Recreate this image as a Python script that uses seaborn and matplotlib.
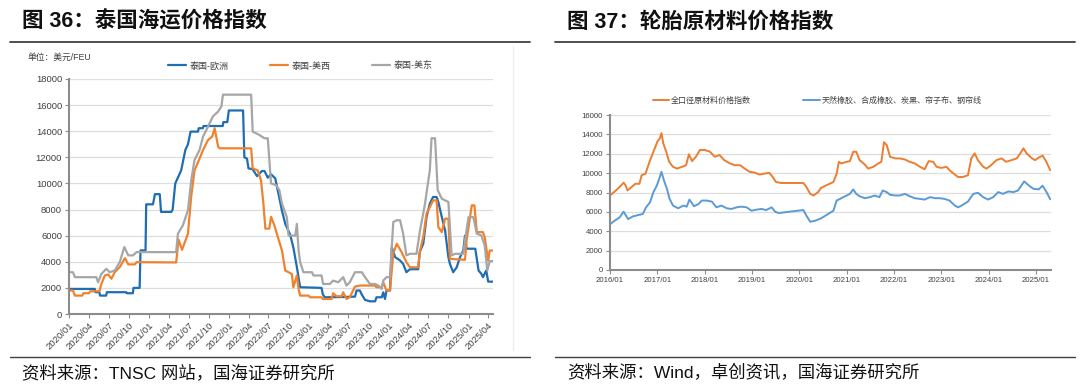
import matplotlib
matplotlib.use("Agg")
import matplotlib.pyplot as plt
import matplotlib.dates as mdates
import pandas as pd
import seaborn as sns

# ---------- 图36：泰国海运价格指数（美元/FEU）----------
eu_dates = ["2020-01-01", "2020-04-28", "2020-05-01", "2020-05-19", "2020-05-22", "2020-06-19",
            "2020-06-22", "2020-09-19", "2020-09-22", "2020-10-19", "2020-10-22", "2020-11-19",
            "2020-11-23", "2020-12-16", "2020-12-19", "2021-01-19", "2021-01-28", "2021-02-19",
            "2021-02-25", "2021-04-13", "2021-04-19", "2021-04-25", "2021-05-01", "2021-05-28",
            "2021-06-16", "2021-06-28", "2021-07-10", "2021-08-13", "2021-08-16", "2021-09-04",
            "2021-09-07", "2021-12-04", "2021-12-07", "2021-12-25", "2022-01-01", "2022-03-07",
            "2022-03-13", "2022-03-25", "2022-04-01", "2022-04-19", "2022-05-10", "2022-06-01",
            "2022-06-13", "2022-06-28", "2022-07-13", "2022-08-01", "2022-08-16", "2022-09-01",
            "2022-09-16", "2022-10-08", "2022-10-23", "2022-11-08", "2022-11-23", "2023-03-01",
            "2023-03-07", "2023-03-16", "2023-06-01", "2023-08-01", "2023-08-08", "2023-08-23",
            "2023-09-01", "2023-09-16", "2023-10-08", "2023-11-01", "2023-11-07", "2023-12-01",
            "2023-12-08", "2023-12-16", "2023-12-23", "2024-01-08", "2024-01-16", "2024-02-01",
            "2024-02-23", "2024-03-08", "2024-03-23", "2024-04-08", "2024-05-16", "2024-05-23",
            "2024-06-08", "2024-06-23", "2024-07-08", "2024-07-23", "2024-08-08", "2024-08-16",
            "2024-09-01", "2024-09-16", "2024-10-01", "2024-10-08", "2024-10-23", "2024-11-08",
            "2024-11-23", "2024-12-08", "2024-12-16", "2024-12-23", "2025-02-01", "2025-02-08",
            "2025-02-16", "2025-03-01", "2025-03-08", "2025-03-23", "2025-04-01", "2025-04-23"]
eu_vals = [1920, 1920, 1670, 1670, 1410, 1410,
           1670, 1670, 1590, 1590, 2000, 2000,
           4870, 4870, 8400, 8400, 9180, 9180,
           7820, 7820, 8000, 9000, 10000, 11000,
           12560, 13000, 13970, 13970, 14230, 14230,
           14400, 14400, 14700, 14700, 15590, 15590,
           12000, 11900, 11150, 11100, 10560, 10950,
           10950, 10440, 10700, 10400, 9200, 7900,
           6900, 6100, 5100, 3600, 2050, 2000,
           1490, 1280, 1300, 1330, 1800, 1800,
           1490, 1080, 970, 970, 1280, 1280,
           1660, 1150, 1800, 1800, 5100, 4350,
           4100, 3840, 3200, 3430, 3430, 4740,
           5380, 7420, 8450, 8960, 8960, 8580,
           7420, 6400, 4350, 3840, 3200, 3580,
           4350, 4860, 6000, 5000, 5000, 4220,
           3330, 3070, 2820, 3330, 2480, 2480]

usw_dates = ["2020-01-01", "2020-01-19", "2020-01-28", "2020-03-01", "2020-03-07", "2020-04-01",
             "2020-04-07", "2020-05-19", "2020-05-28", "2020-06-13", "2020-06-28", "2020-07-13",
             "2020-07-28", "2020-08-20", "2020-09-13", "2020-09-28", "2020-10-28", "2020-11-05",
             "2021-05-05", "2021-05-16", "2021-06-01", "2021-06-28", "2021-07-13", "2021-07-28",
             "2021-08-20", "2021-09-05", "2021-09-28", "2021-10-17", "2021-10-28", "2021-11-13",
             "2021-11-20", "2022-04-13", "2022-04-20", "2022-05-13", "2022-05-28", "2022-06-08",
             "2022-06-17", "2022-07-05", "2022-07-13", "2022-07-28", "2022-08-13", "2022-09-01",
             "2022-09-16", "2022-10-16", "2022-10-23", "2022-11-08", "2022-11-16", "2022-11-23",
             "2023-01-01", "2023-01-07", "2023-03-01", "2023-03-07", "2023-04-16", "2023-04-23",
             "2023-05-08", "2023-06-01", "2023-06-08", "2023-06-23", "2023-07-08", "2023-08-01",
             "2023-08-23", "2023-11-01", "2023-11-07", "2023-12-01", "2023-12-08", "2023-12-23",
             "2024-01-08", "2024-01-23", "2024-02-08", "2024-03-01", "2024-03-23", "2024-04-08",
             "2024-05-16", "2024-05-23", "2024-06-08", "2024-06-23", "2024-07-08", "2024-07-23",
             "2024-08-08", "2024-08-16", "2024-09-01", "2024-09-16", "2024-10-01", "2024-10-08",
             "2024-12-16", "2024-12-23", "2025-01-08", "2025-01-16", "2025-01-28", "2025-02-08",
             "2025-03-08", "2025-03-16", "2025-04-01", "2025-04-08", "2025-04-23"]
usw_vals = [1800, 1800, 1410, 1410, 1590, 1590,
            1740, 1740, 2300, 2950, 3030, 2700,
            3200, 3590, 4280, 3800, 3800, 3970,
            3950, 5700, 4920, 6150, 9020, 11000,
            11900, 12560, 13330, 13590, 14230, 12820,
            12690, 12690, 11150, 11000, 10250, 8460,
            6540, 6540, 7440, 6800, 5900, 4860,
            3330, 3070, 2050, 2950, 1920, 1410,
            1410, 1280, 1280, 1150, 1150, 1590,
            1360, 1360, 1660, 1150, 1280, 2100,
            2180, 2180, 2050, 2050, 2430, 1800,
            1800, 4660, 5380, 4740, 3970, 3580,
            3580, 4740, 5900, 7690, 8190, 8700,
            8700, 6660, 6270, 7300, 7300, 4220,
            4150, 5630, 7420, 8320, 8320, 6270,
            6270, 5890, 4100, 4860, 4860]

use_dates = ["2020-01-01", "2020-01-19", "2020-01-28", "2020-05-05", "2020-05-13", "2020-05-28",
             "2020-06-20", "2020-07-05", "2020-07-28", "2020-08-20", "2020-09-10", "2020-09-28",
             "2020-10-20", "2020-11-05", "2021-05-05", "2021-05-13", "2021-06-05", "2021-06-28",
             "2021-07-13", "2021-07-28", "2021-08-20", "2021-09-05", "2021-09-28", "2021-10-20",
             "2021-11-13", "2021-11-28", "2021-12-05", "2022-04-13", "2022-04-20", "2022-05-20",
             "2022-06-13", "2022-06-28", "2022-07-13", "2022-08-05", "2022-08-20", "2022-09-01",
             "2022-09-23", "2022-10-01", "2022-11-01", "2022-11-08", "2022-11-16", "2022-11-23",
             "2022-12-08", "2023-01-16", "2023-01-23", "2023-03-01", "2023-03-08", "2023-04-08",
             "2023-04-23", "2023-05-16", "2023-06-08", "2023-06-23", "2023-07-08", "2023-08-01",
             "2023-09-01", "2023-09-16", "2023-10-08", "2023-11-01", "2023-11-16", "2023-12-01",
             "2023-12-08", "2023-12-23", "2024-01-08", "2024-01-23", "2024-02-08", "2024-02-23",
             "2024-03-08", "2024-03-23", "2024-04-08", "2024-05-08", "2024-05-23", "2024-06-16",
             "2024-07-08", "2024-07-16", "2024-08-01", "2024-08-13", "2024-09-01", "2024-10-01",
             "2024-10-08", "2024-10-16", "2024-11-01", "2024-12-08", "2024-12-16", "2025-01-01",
             "2025-01-23", "2025-02-08", "2025-03-01", "2025-03-16", "2025-03-28", "2025-04-08",
             "2025-04-23"]
use_vals = [3200, 3200, 2820, 2820, 2430, 3070,
            3460, 3200, 3330, 3970, 5130, 4490,
            4490, 4740, 4740, 6150, 6800, 7950,
            10250, 11800, 12560, 13590, 14360, 15130,
            15510, 15900, 16800, 16800, 13970, 13720,
            13460, 13460, 10000, 9870, 9490, 8450,
            7420, 6020, 6000, 6900, 4860, 3970,
            3200, 3200, 2950, 2950, 2300, 2300,
            2560, 2430, 2820, 2180, 2430, 3200,
            3200, 2820, 2300, 2300, 2180, 1920,
            2560, 2820, 2820, 7050, 7180, 7180,
            6150, 4490, 4610, 4610, 6270, 8450,
            11000, 13460, 13460, 9490, 8830, 8580,
            6660, 4490, 4610, 4610, 5630, 7420,
            7420, 6150, 6020, 5250, 3330, 4050,
            4050]

left_ticks = pd.date_range("2020-01-01", "2025-04-01", freq="3MS")

# ---------- 图37：轮胎原材料价格指数 ----------
tire_dates = ["2016-01-01", "2016-02-01", "2016-03-01", "2016-04-15", "2016-05-01", "2016-05-15",
              "2016-06-15", "2016-07-15", "2016-08-15", "2016-09-01", "2016-10-01", "2016-11-01",
              "2016-12-01", "2017-01-01", "2017-01-20", "2017-02-01", "2017-02-15", "2017-03-10",
              "2017-04-01", "2017-05-01", "2017-06-01", "2017-07-10", "2017-08-10", "2017-09-01",
              "2017-09-25", "2017-10-25", "2017-11-25", "2018-01-01", "2018-02-10", "2018-03-20",
              "2018-04-25", "2018-06-01", "2018-07-15", "2018-08-20", "2018-10-01", "2018-11-05",
              "2018-12-15", "2019-01-20", "2019-03-01", "2019-04-05", "2019-05-15", "2019-06-10",
              "2019-07-05", "2019-08-15", "2020-02-01", "2020-02-25", "2020-03-25", "2020-04-20",
              "2020-05-25", "2020-06-15", "2020-07-25", "2020-09-20", "2020-10-15", "2020-11-01",
              "2020-11-20", "2021-01-01", "2021-01-25", "2021-02-20", "2021-03-15", "2021-04-10",
              "2021-05-20", "2021-06-15", "2021-07-25", "2021-09-01", "2021-09-25", "2021-10-15",
              "2021-11-05", "2021-12-01", "2022-01-10", "2022-02-15", "2022-03-25", "2022-05-01",
              "2022-06-10", "2022-07-20", "2022-08-25", "2022-09-25", "2022-10-30", "2022-11-25",
              "2023-01-01", "2023-02-10", "2023-03-05", "2023-04-15", "2023-05-10", "2023-06-15",
              "2023-07-25", "2023-08-20", "2023-09-15", "2023-10-10", "2023-11-20", "2023-12-15",
              "2024-01-20", "2024-03-01", "2024-04-10", "2024-05-15", "2024-06-25", "2024-08-05",
              "2024-09-01", "2024-09-25", "2024-10-20", "2024-12-01", "2024-12-25", "2025-01-20",
              "2025-02-20", "2025-03-20", "2025-04-20"]
tire_vals = [7700, 8040, 8390, 9010, 8730, 8210,
             8560, 8900, 8900, 9780, 9950, 11170,
             12210, 13260, 13600, 14130, 13080, 12210,
             11170, 10650, 10470, 10650, 10820, 11940,
             11240, 11690, 12390, 12390, 12210, 11690,
             11870, 11340, 11000, 10820, 10820, 10470,
             10130, 10060, 9850, 9950, 10020, 9600,
             9080, 8980, 8980, 8560, 7860, 7690,
             8040, 8460, 8730, 9080, 9950, 11170,
             11000, 11170, 11240, 12210, 12210, 11340,
             10890, 10470, 10650, 11000, 11170, 13190,
             12910, 11690, 11520, 11520, 11410, 11170,
             11000, 10650, 10400, 11240, 11170, 10650,
             10540, 10650, 10300, 9850, 9600, 9600,
             9780, 11520, 12040, 11340, 10650, 10470,
             10820, 11340, 11520, 11170, 11340, 11520,
             12040, 12560, 12040, 11520, 11340, 11600,
             11800, 11200, 10300]

rubber_dates = ["2016-01-01", "2016-02-05", "2016-03-15", "2016-04-15", "2016-05-20", "2016-06-25",
                "2016-08-05", "2016-09-10", "2016-10-05", "2016-11-05", "2016-12-01", "2016-12-28",
                "2017-01-15", "2017-02-01", "2017-02-20", "2017-03-15", "2017-04-05", "2017-05-01",
                "2017-06-10", "2017-07-20", "2017-08-15", "2017-09-05", "2017-10-10", "2017-11-15",
                "2017-12-10", "2018-01-15", "2018-02-25", "2018-04-01", "2018-05-10", "2018-06-20",
                "2018-07-25", "2018-09-05", "2018-10-10", "2018-11-20", "2018-12-28", "2019-02-05",
                "2019-03-15", "2019-04-20", "2019-06-01", "2019-06-28", "2019-07-25", "2020-02-01",
                "2020-02-25", "2020-03-25", "2020-05-01", "2020-06-15", "2020-08-10", "2020-09-20",
                "2020-10-15", "2020-11-10", "2020-12-05", "2021-01-01", "2021-01-25", "2021-02-20",
                "2021-03-15", "2021-04-10", "2021-05-20", "2021-06-28", "2021-08-05", "2021-09-10",
                "2021-10-05", "2021-11-05", "2021-12-01", "2022-01-10", "2022-02-15", "2022-03-25",
                "2022-05-01", "2022-06-10", "2022-07-20", "2022-08-25", "2022-10-05", "2022-11-15",
                "2022-12-20", "2023-01-25", "2023-03-05", "2023-04-15", "2023-05-10", "2023-06-15",
                "2023-07-25", "2023-09-05", "2023-10-10", "2023-11-20", "2023-12-28", "2024-02-05",
                "2024-03-15", "2024-04-20", "2024-06-01", "2024-07-10", "2024-08-15", "2024-09-10",
                "2024-10-01", "2024-11-05", "2024-12-10", "2025-01-20", "2025-02-20", "2025-03-20",
                "2025-04-20"]
rubber_vals = [4730, 5080, 5430, 6020, 5250, 5530,
               5670, 5780, 6470, 6990, 8040, 8730,
               9430, 10130, 9260, 8390, 7340, 6650,
               6370, 6650, 6540, 7270, 6580, 6820,
               7170, 7170, 7060, 6470, 6650, 6370,
               6300, 6470, 6540, 6470, 6120, 6230,
               6300, 6190, 6470, 6020, 5880, 6190,
               5600, 4980, 5080, 5320, 5780, 6120,
               7170, 7340, 7520, 7690, 7860, 8320,
               7860, 7620, 7410, 7520, 7690, 7520,
               8210, 8040, 7760, 7690, 7690, 7860,
               7620, 7410, 7340, 7270, 7520, 7410,
               7410, 7340, 7170, 6650, 6470, 6720,
               7060, 7860, 7970, 7520, 7270, 7520,
               8040, 7860, 8110, 8040, 8210, 8730,
               9150, 8730, 8390, 8320, 8700, 8100,
               7300]

right_ticks = pd.date_range("2016-01-01", "2025-01-01", freq="YS")

sns.set_theme(style="white")
plt.rcParams["font.family"] = ["Liberation Sans", "Noto Sans CJK SC", "DejaVu Sans"]

W, H = 1080, 391
fig = plt.figure(figsize=(W / 100, H / 100), dpi=100)


def fx(px):
    return px / W


def fy(py):
    return 1 - py / H


# titles, rules, sources
for x0, x1, title, src in [(10, 530, "图 36：泰国海运价格指数", "资料来源：TNSC 网站，国海证券研究所"),
                           (555, 1075, "图 37：轮胎原材料价格指数", "资料来源：Wind，卓创资讯，国海证券研究所")]:
    fig.text(fx(x0 + 12), fy(22), title, fontsize=15.5, fontweight="bold", va="center", color="#111111")
    fig.add_artist(plt.Line2D([fx(x0), fx(x1)], [fy(42), fy(42)], color="#404040", lw=1.3))
    fig.add_artist(plt.Line2D([fx(x0), fx(x1)], [fy(357), fy(357)], color="#404040", lw=1.0))
    fig.text(fx(x0 + 12), fy(373), src, fontsize=12.5, va="center", color="#111111")

fig.add_artist(plt.Line2D([fx(513), fx(513)], [fy(46), fy(350)], color="#ececec", lw=0.8))


def style_axes(ax, lab_size):
    for s in ["top", "right"]:
        ax.spines[s].set_visible(False)
    for s in ["left", "bottom"]:
        ax.spines[s].set_color("#8c8c8c")
        ax.spines[s].set_linewidth(1.5)
    ax.yaxis.grid(True, color="#dedede", lw=0.9)
    ax.set_axisbelow(True)
    ax.tick_params(axis="both", which="major", length=3, width=0.8, color="#8c8c8c",
                   labelsize=lab_size, labelcolor="#404040", pad=2, direction="out")
    ax.tick_params(left=True, bottom=True)
    ax.set_xlabel("")
    ax.set_ylabel("")


# ---- left chart
ax1 = fig.add_axes([fx(69), fy(314), fx(493) - fx(69), fy(79) - fy(314)])
sns.lineplot(x=pd.to_datetime(eu_dates), y=eu_vals, ax=ax1, color="#1f6db3", lw=1.6, label="泰国-欧洲")
sns.lineplot(x=pd.to_datetime(usw_dates), y=usw_vals, ax=ax1, color="#f0822e", lw=1.6, label="泰国-美西")
sns.lineplot(x=pd.to_datetime(use_dates), y=use_vals, ax=ax1, color="#a6a6a6", lw=1.6, label="泰国-美东")
ax1.set_ylim(0, 18000)
ax1.set_yticks(range(0, 18001, 2000))
ax1.set_xlim(pd.Timestamp("2020-01-01"), pd.Timestamp("2025-04-23"))
ax1.set_xticks(left_ticks)
ax1.xaxis.set_major_formatter(mdates.DateFormatter("%Y/%m"))
style_axes(ax1, 6.8)
plt.setp(ax1.get_xticklabels(), rotation=45, ha="right", rotation_mode="anchor")
ax1.legend(loc="center", bbox_to_anchor=(0.545, 1.055), ncol=3, frameon=False, fontsize=6.5,
           handlelength=2.0, columnspacing=4.6, handletextpad=0.4, labelcolor="#404040")
fig.text(fx(27), fy(57), "单位：美元/FEU", fontsize=6.3, va="center", color="#404040")

# ---- right chart
ax2 = fig.add_axes([fx(610), fy(270), fx(1051) - fx(610), fy(115) - fy(270)])
sns.lineplot(x=pd.to_datetime(tire_dates), y=tire_vals, ax=ax2, color="#ed7d31", lw=1.4, label="全口径原材料价格指数")
sns.lineplot(x=pd.to_datetime(rubber_dates), y=rubber_vals, ax=ax2, color="#5b9bd5", lw=1.4,
             label="天然橡胶、合成橡胶、炭黑、帘子布、钢帘线")
ax2.set_ylim(0, 16000)
ax2.set_yticks(range(0, 16001, 2000))
ax2.set_xlim(pd.Timestamp("2016-01-01"), pd.Timestamp("2025-04-26"))
ax2.set_xticks(right_ticks)
ax2.xaxis.set_major_formatter(mdates.DateFormatter("%Y/%m"))
style_axes(ax2, 5.6)
ax2.legend(loc="center", bbox_to_anchor=(0.47, 1.09), ncol=2, frameon=False, fontsize=5.8,
           handlelength=2.0, columnspacing=6.5, handletextpad=0.3, labelcolor="#404040")

fig.savefig("out.png", dpi=100)
